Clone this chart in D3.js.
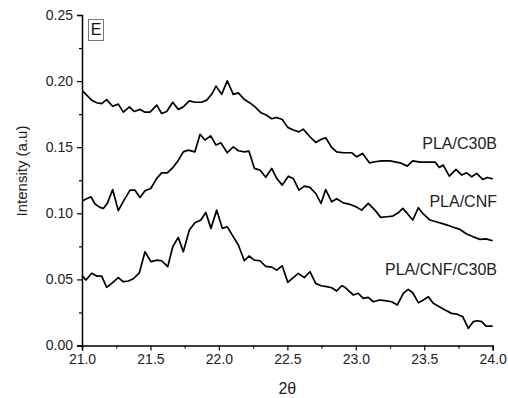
<!DOCTYPE html>
<html><head><meta charset="utf-8">
<script src="https://cdn.jsdelivr.net/npm/d3@7"></script>
<style>body{margin:0;background:#fff}svg{display:block;font-family:"Liberation Sans",Arial,sans-serif}</style>
</head><body>
<script>
const seriesNames = ["PLA/C30B","PLA/CNF","PLA/CNF/C30B"];
const xC30B = [21.005,21.034,21.071,21.107,21.144,21.180,21.224,21.265,21.302,21.346,21.382,21.424,21.460,21.497,21.546,21.582,21.619,21.663,21.703,21.740,21.784,21.825,21.874,21.911,21.947,21.979,22.020,22.061,22.105,22.142,22.186,22.227,22.264,22.308,22.342,22.386,22.422,22.463,22.503,22.543,22.585,22.616,22.665,22.707,22.746,22.780,22.824,22.860,22.909,22.970,23.007,23.050,23.099,23.140,23.189,23.250,23.323,23.376,23.416,23.469,23.579,23.610,23.639,23.683,23.732,23.774,23.810,23.847,23.883,23.927,23.961,24.000];
const yC30B = [0.1926,0.1894,0.1856,0.1836,0.183,0.186,0.181,0.1826,0.1765,0.1805,0.177,0.1786,0.1765,0.1765,0.1818,0.1755,0.177,0.184,0.1786,0.1805,0.185,0.184,0.184,0.1856,0.190,0.1962,0.190,0.2002,0.190,0.1911,0.1861,0.1835,0.1805,0.176,0.1745,0.1715,0.1725,0.171,0.165,0.163,0.1616,0.1637,0.1579,0.1536,0.1559,0.1571,0.1498,0.1465,0.1458,0.1458,0.1427,0.1453,0.1382,0.139,0.1397,0.1397,0.1382,0.1357,0.1397,0.1387,0.1387,0.1347,0.1365,0.1281,0.1332,0.1289,0.1306,0.1276,0.1302,0.1256,0.1271,0.126];
const xCNF = [21.005,21.034,21.066,21.095,21.131,21.156,21.185,21.224,21.265,21.307,21.351,21.387,21.424,21.460,21.502,21.546,21.582,21.623,21.667,21.703,21.740,21.776,21.825,21.862,21.898,21.940,21.979,22.015,22.061,22.105,22.142,22.186,22.220,22.259,22.300,22.342,22.386,22.422,22.463,22.507,22.543,22.585,22.624,22.665,22.707,22.746,22.780,22.824,22.860,22.909,22.950,23.001,23.043,23.091,23.140,23.182,23.226,23.270,23.310,23.343,23.376,23.416,23.457,23.489,23.542,23.586,23.627,23.668,23.712,23.761,23.810,23.858,23.907,23.951,24.000];
const yCNF = [0.1095,0.111,0.1125,0.107,0.1045,0.1037,0.1075,0.118,0.102,0.110,0.1175,0.1175,0.112,0.117,0.1188,0.1264,0.1306,0.1306,0.135,0.140,0.1465,0.1478,0.1465,0.1597,0.1554,0.1586,0.1516,0.1533,0.1458,0.1503,0.1473,0.1465,0.147,0.134,0.1327,0.1272,0.134,0.1264,0.1213,0.1281,0.1264,0.1175,0.1206,0.1196,0.115,0.1075,0.118,0.1087,0.111,0.1079,0.107,0.1049,0.1024,0.1075,0.1024,0.0969,0.0974,0.0979,0.1004,0.1037,0.0999,0.0949,0.1042,0.0999,0.0949,0.0936,0.0924,0.0911,0.0894,0.0878,0.0843,0.0822,0.0803,0.0807,0.0792];
const xCNFC30B = [21.000,21.029,21.071,21.107,21.144,21.180,21.217,21.265,21.302,21.338,21.375,21.419,21.460,21.504,21.546,21.582,21.626,21.663,21.703,21.740,21.784,21.825,21.869,21.904,21.942,21.984,22.025,22.061,22.098,22.142,22.186,22.220,22.259,22.300,22.342,22.386,22.422,22.463,22.503,22.543,22.580,22.624,22.665,22.707,22.746,22.787,22.824,22.860,22.897,22.921,22.982,23.018,23.055,23.091,23.128,23.172,23.213,23.262,23.303,23.347,23.383,23.416,23.457,23.493,23.530,23.566,23.610,23.652,23.700,23.737,23.781,23.822,23.858,23.888,23.920,23.951,24.000];
const yCNFC30B = [0.053,0.0495,0.0546,0.0525,0.0525,0.044,0.047,0.0513,0.0482,0.0488,0.0505,0.055,0.0709,0.0634,0.0646,0.0641,0.0596,0.0747,0.0818,0.0709,0.0873,0.0928,0.0949,0.1007,0.0886,0.1024,0.0886,0.0898,0.0835,0.076,0.0641,0.0677,0.0646,0.0641,0.0599,0.0593,0.057,0.0603,0.0478,0.0513,0.0546,0.0513,0.0558,0.047,0.0452,0.0445,0.0437,0.0412,0.0452,0.044,0.0382,0.0395,0.0357,0.0364,0.0331,0.0344,0.0339,0.0331,0.0306,0.0395,0.0425,0.0399,0.0324,0.0344,0.0369,0.0319,0.0293,0.0268,0.0243,0.0238,0.0218,0.013,0.018,0.0187,0.018,0.0147,0.0147];
const xTicks = [21.0,21.5,22.0,22.5,23.0,23.5,24.0];
const yTicks = [0.00,0.05,0.10,0.15,0.20,0.25];
const labelY = [0.1516,0.1077,0.0566]; // label anchor values (vertical position)
const panelLetter = "E";
const xTitle = "2θ", yTitle = "Intensity (a.u)";

const W = 508, H = 398;
const m = {l:82, r:15.3, t:15, b:52.5};
const svg = d3.select("body").append("svg").attr("width",W).attr("height",H);
const x = d3.scaleLinear().domain([21,24]).range([m.l, W-m.r]);
const y = d3.scaleLinear().domain([0,0.25]).range([H-m.b, m.t]);

const series = [
  xC30B.map((v,i)=>[v,yC30B[i]]),
  xCNF.map((v,i)=>[v,yCNF[i]]),
  xCNFC30B.map((v,i)=>[v,yCNFC30B[i]])
];
const line = d3.line().x(d=>x(d[0])).y(d=>y(d[1]));
series.forEach(s=>{
  svg.append("path").datum(s).attr("d",line).attr("fill","none")
    .attr("stroke","#000").attr("stroke-width",1.7).attr("stroke-linejoin","round");
});

// minor ticks
const xMinor = d3.range(21.25,24,0.5);
const yMinor = d3.range(0.025,0.25,0.05);
svg.append("g").attr("transform",`translate(0,${H-m.b})`)
  .call(d3.axisBottom(x).tickValues(xTicks).tickFormat(d3.format(".1f")).tickSize(5).tickPadding(4));
svg.append("g").attr("transform",`translate(0,${H-m.b})`)
  .call(d3.axisBottom(x).tickValues(xMinor).tickFormat("").tickSize(3)).select(".domain").remove();
svg.append("g").attr("transform",`translate(${m.l},0)`)
  .call(d3.axisLeft(y).tickValues(yTicks).tickFormat(d3.format(".2f")).tickSize(5).tickPadding(4));
svg.append("g").attr("transform",`translate(${m.l},0)`)
  .call(d3.axisLeft(y).tickValues(yMinor).tickFormat("").tickSize(3)).select(".domain").remove();
svg.selectAll(".domain").attr("stroke","#000").attr("stroke-width",1.5);
svg.selectAll(".tick line").attr("stroke","#000").attr("stroke-width",1.2);
svg.selectAll(".tick text").attr("font-size",14).attr("fill","#222")
  .attr("font-family",'"Liberation Sans",Arial,sans-serif');

// titles
svg.append("text").attr("x",(m.l+W-m.r)/2).attr("y",394).attr("text-anchor","middle")
  .attr("font-size",16).attr("fill","#222").text(xTitle);
svg.append("text").attr("transform",`translate(27,171) rotate(-90)`).attr("text-anchor","middle")
  .attr("font-size",15).attr("fill","#222").text(yTitle);

// series labels
seriesNames.forEach((n,i)=>{
  svg.append("text").attr("x",497).attr("y",y(labelY[i])).attr("text-anchor","end")
    .attr("dominant-baseline","middle").attr("font-size",16).attr("fill","#222").text(n);
});

// panel letter box
svg.append("rect").attr("x",88.5).attr("y",19.5).attr("width",15).attr("height",21)
  .attr("fill","#fff").attr("stroke","#777").attr("stroke-width",1);
svg.append("text").attr("x",96).attr("y",30.5).attr("text-anchor","middle")
  .attr("dominant-baseline","middle").attr("font-size",16).attr("fill","#111").text(panelLetter);
</script>
</body></html>
